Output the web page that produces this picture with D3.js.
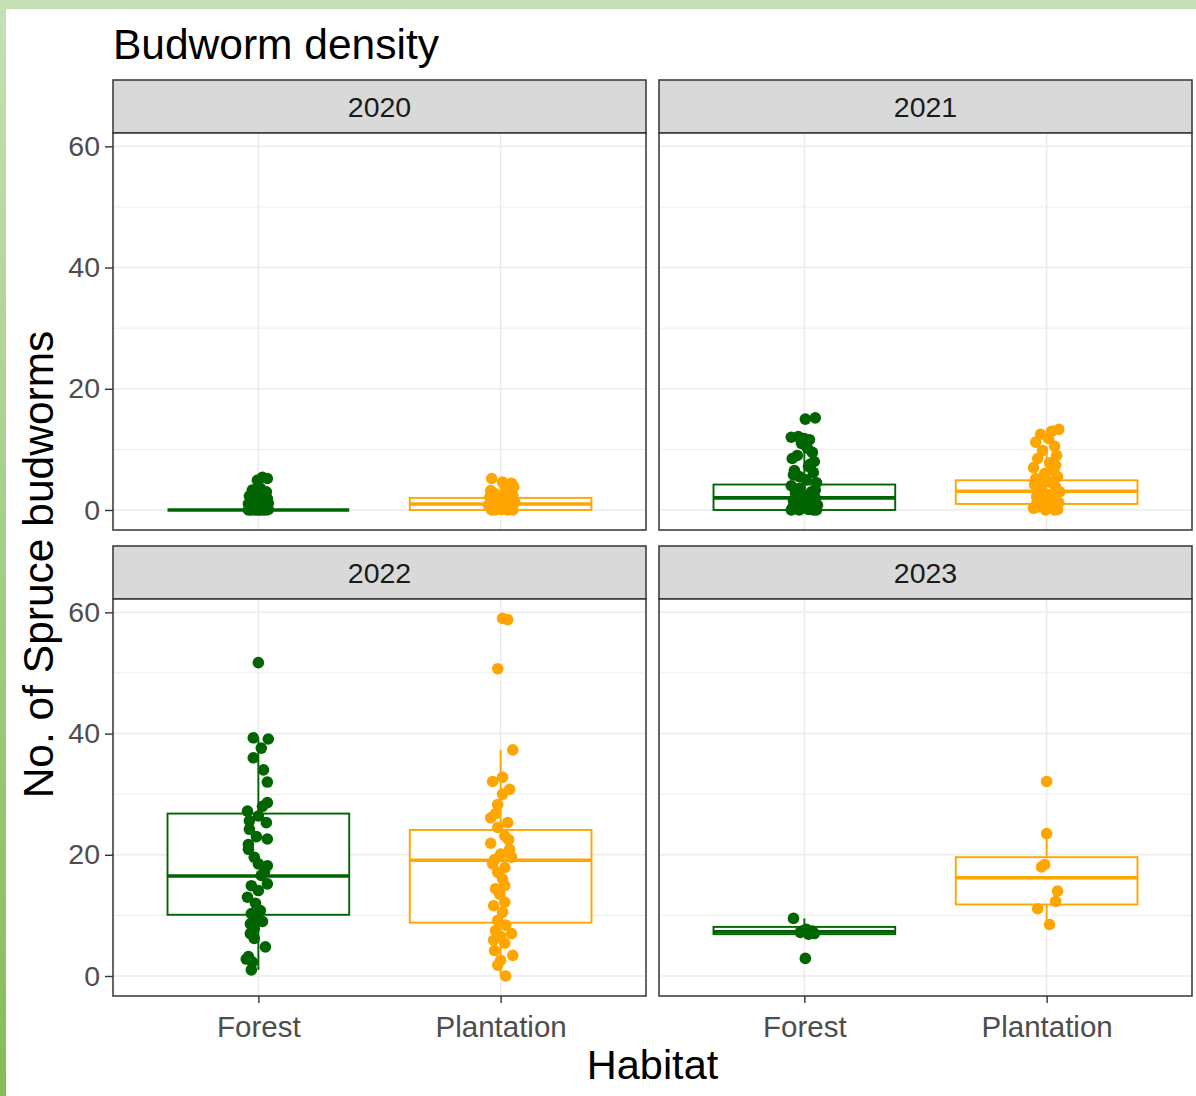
<!DOCTYPE html>
<html>
<head>
<meta charset="utf-8">
<title>Budworm density</title>
<script src="https://cdn.jsdelivr.net/npm/d3@7"></script>
<style>
  html, body { margin: 0; padding: 0; background: #fff; }
  svg { display: block; font-family: "Liberation Sans", Arial, sans-serif; }
</style>
</head>
<body>
<svg id="chart" width="1196" height="1096"></svg>
<script>
// ---- data ----
const years = ["2020", "2021", "2022", "2023"];
const habitats = ["Forest", "Plantation"];
const yTicks = [0, 20, 40, 60];
const yMinorTicks = [10, 30, 50];
const habitatColours = ["#006400", "#FFA500"];

// box stats per habitat: [lower whisker, q1, median, q3, upper whisker]
const box2020 = [[0, 0, 0, 0, 0], [0, 0, 1, 2, 5]];
const box2021 = [[0, 0, 2, 4.2, 10.2], [0, 1, 3.1, 4.9, 10.5]];
const box2022 = [[1, 10.1, 16.5, 26.8, 39.3], [0, 8.8, 19.1, 24.1, 37.3]];
const box2023 = [[6.9, 6.9, 7.3, 8.1, 9.5], [8.5, 11.8, 16.2, 19.6, 23.5]];

// raw counts and the jitter offsets (in category units)
const forest2020 = [5.4, 5.2, 4.9, 3.6, 3.3, 3.0, 2.8, 2.5, 2.3, 2.0, 1.9, 1.7, 1.5, 1.3, 1.1, 1.0, 0.9, 0.7, 0.5, 0.4, 0.3, 0.2, 0.1, 0, 0, 0, 0, 0, 0, 0];
const forest2020Jit = [0.017, 0.037, -0.004, 0.008, -0.025, 0.033, -0.012, 0.025, -0.037, 0.004, 0.037, -0.029, 0.017, -0.017, 0.041, -0.041, 0.025, -0.008, 0.033, -0.033, 0.012, -0.021, 0.041, -0.041, -0.012, 0.021, 0, 0.033, -0.029, 0.008];
const plant2020 = [5.2, 4.4, 4.6, 3.8, 3.2, 3.0, 2.7, 2.4, 2.1, 2.0, 1.8, 1.5, 1.3, 1.0, 1.0, 0.8, 0.6, 0.4, 0.2, 0, 0, 0, 0, 0.1];
const plant2020Jit = [-0.037, 0.045, 0.008, 0.054, -0.041, 0.021, -0.025, 0.05, -0.045, 0, 0.033, -0.033, 0.058, -0.017, 0.025, -0.05, 0.041, -0.008, 0.017, -0.037, 0.05, -0.021, 0.029, 0.004];

const forest2021 = [15.0, 15.2, 12.0, 12.1, 11.8, 11.6, 11.0, 10.2, 9.5, 8.5, 8.0, 7.2, 6.5, 6.2, 5.5, 5.0, 4.5, 4.0, 3.6, 3.0, 2.8, 2.4, 2.0, 1.8, 1.5, 1.2, 1.0, 0.8, 0.5, 0.3, 0, 0, 0.1, 0.2, 0, 0.4, 0, 9.0, 7.6, 5.8, 3.3, 1.4];
const forest2021Jit = [0.004, 0.045, -0.054, -0.025, 0, 0.021, -0.012, 0.012, 0.033, -0.05, 0.041, 0.017, -0.041, 0.037, -0.021, 0.008, 0.05, -0.054, -0.017, 0.029, -0.037, 0.012, 0.045, -0.008, -0.045, 0.025, -0.029, 0.054, 0.004, -0.05, -0.021, 0.037, 0.017, -0.037, 0.05, -0.004, -0.054, -0.029, 0.025, -0.045, 0.045, -0.017];
const plant2021 = [13.3, 13.0, 12.5, 11.8, 11.2, 10.5, 9.8, 9.0, 8.5, 7.8, 7.0, 6.5, 6.0, 5.5, 5.0, 4.6, 4.2, 3.8, 3.4, 3.0, 2.6, 2.2, 1.8, 1.5, 1.2, 0.9, 0.6, 0.3, 0, 0, 0.1, 0.5, 2.0, 4.0, 7.4, 5.2, 2.8, 1.0];
const plant2021Jit = [0.05, 0.021, -0.025, 0.008, -0.045, 0.033, -0.017, 0.041, -0.037, 0.012, -0.054, 0.029, -0.008, 0.045, -0.033, 0.017, -0.05, 0.037, -0.021, 0.054, 0, -0.041, 0.025, -0.012, 0.05, -0.029, 0.008, -0.054, 0.033, -0.004, 0.045, -0.037, 0.017, -0.021, 0.037, -0.045, 0.041, -0.041];

const forest2022 = [51.7, 39.3, 39.1, 37.6, 36.0, 34.0, 32.0, 28.6, 28.0, 27.2, 26.4, 25.6, 25.3, 24.2, 23.0, 22.6, 21.7, 20.9, 19.6, 18.5, 18.2, 17.2, 16.6, 15.2, 14.9, 14.1, 13.0, 12.0, 10.8, 10.3, 9.5, 9.0, 8.6, 7.8, 7.0, 6.2, 4.8, 3.2, 2.8, 2.3, 1.0];
const forest2022Jit = [0, -0.021, 0.041, 0.012, -0.021, 0.021, 0.037, 0.037, 0.017, -0.045, 0, -0.037, 0.033, -0.037, -0.008, 0.037, -0.041, -0.041, -0.017, 0, 0.037, 0.025, 0.012, 0.037, -0.029, 0, -0.045, -0.012, 0.008, -0.029, -0.008, 0.017, -0.033, -0.017, -0.033, -0.017, 0.029, -0.041, -0.05, -0.025, -0.029];
const plant2022 = [59.0, 58.8, 50.7, 37.3, 32.8, 32.1, 30.8, 30.0, 28.3, 26.8, 26.1, 25.3, 24.5, 23.1, 22.5, 21.9, 20.9, 20.1, 19.6, 19.2, 18.5, 17.9, 17.1, 16.0, 14.9, 14.4, 13.5, 12.2, 11.6, 10.5, 9.2, 8.4, 7.5, 7.0, 6.5, 5.9, 5.4, 4.2, 3.4, 2.6, 1.8, 0];
const plant2022Jit = [0.008, 0.029, -0.012, 0.05, 0.008, -0.033, 0.037, 0.008, -0.012, -0.021, -0.041, 0.029, -0.012, 0.017, 0.033, -0.041, 0.037, 0, 0.045, -0.025, -0.033, 0.017, -0.012, 0.008, 0.017, -0.021, -0.004, 0.017, -0.029, 0.008, -0.012, 0.021, -0.021, 0.045, 0, -0.029, 0.017, -0.025, 0.05, 0, -0.012, 0.021];

const forest2023 = [9.5, 7.7, 7.4, 7.2, 7.0, 6.9, 7.5, 7.1, 2.9];
const forest2023Jit = [-0.045, 0.008, 0.033, -0.017, 0.041, 0.017, -0.004, 0.025, 0.004];
const plant2023 = [32.1, 23.5, 18.4, 18.0, 14.0, 12.3, 11.1, 8.5];
const plant2023Jit = [0, 0, -0.008, -0.021, 0.045, 0.037, -0.037, 0.012];

const boxStats = [box2020, box2021, box2022, box2023];
const pointValues = [[forest2020, plant2020], [forest2021, plant2021], [forest2022, plant2022], [forest2023, plant2023]];
const pointJitter = [[forest2020Jit, plant2020Jit], [forest2021Jit, plant2021Jit], [forest2022Jit, plant2022Jit], [forest2023Jit, plant2023Jit]];

// ---- layout ----
const W = 1196, H = 1096;
const panelW = 533, plotH = 397, stripH = 53;
const colX = [113, 659];
const rowY = [80, 546];   // top of each strip row

const svg = d3.select("#chart");

// green frame of the screenshot
const defs = svg.append("defs");
const grad = defs.append("linearGradient").attr("id", "frameGrad")
  .attr("x1", 0).attr("y1", 0).attr("x2", 0).attr("y2", 1);
grad.append("stop").attr("offset", "0%").attr("stop-color", "#c6e0b5");
grad.append("stop").attr("offset", "100%").attr("stop-color", "#86bb58");
svg.append("rect").attr("width", W).attr("height", H).attr("fill", "#fff");
svg.append("rect").attr("width", W).attr("height", 9).attr("fill", "#c6e0b5");
svg.append("rect").attr("width", 6).attr("height", H).attr("fill", "url(#frameGrad)");

const x = d3.scalePoint().domain(habitats).range([0, panelW]).padding(0.6);
const step = x.step();
const y = d3.scaleLinear().domain([-3.3, 62.2]).range([plotH, 0]);

years.forEach((yr, i) => {
  const col = i % 2, row = Math.floor(i / 2);
  const g = svg.append("g")
    .attr("transform", `translate(${colX[col]},${rowY[row]})`);

  // strip
  g.append("rect")
    .attr("width", panelW).attr("height", stripH)
    .attr("fill", "#d9d9d9").attr("stroke", "#333").attr("stroke-width", 1.5);
  g.append("text")
    .attr("x", panelW / 2).attr("y", stripH / 2 + 10)
    .attr("text-anchor", "middle")
    .attr("font-size", 28.5).attr("fill", "#1a1a1a")
    .text(yr);

  const p = g.append("g").attr("transform", `translate(0,${stripH})`);
  p.append("rect").attr("width", panelW).attr("height", plotH).attr("fill", "#fff");

  // grid
  p.selectAll("line.minor").data(yMinorTicks).join("line")
    .attr("x1", 0).attr("x2", panelW)
    .attr("y1", d => y(d)).attr("y2", d => y(d))
    .attr("stroke", "#ededed").attr("stroke-width", 1);
  p.selectAll("line.major").data(yTicks).join("line")
    .attr("x1", 0).attr("x2", panelW)
    .attr("y1", d => y(d)).attr("y2", d => y(d))
    .attr("stroke", "#ebebeb").attr("stroke-width", 1.5);
  p.selectAll("line.vgrid").data(habitats).join("line")
    .attr("x1", d => x(d)).attr("x2", d => x(d))
    .attr("y1", 0).attr("y2", plotH)
    .attr("stroke", "#ebebeb").attr("stroke-width", 1.5);

  // boxplots
  const bw = step * 0.75;
  habitats.forEach((h, k) => {
    const [lo, q1, med, q3, hi] = boxStats[i][k];
    const cx = x(h), c = habitatColours[k];
    const bg = p.append("g");
    bg.append("line").attr("x1", cx).attr("x2", cx)
      .attr("y1", y(q3)).attr("y2", y(hi)).attr("stroke", c).attr("stroke-width", 1.9);
    bg.append("line").attr("x1", cx).attr("x2", cx)
      .attr("y1", y(q1)).attr("y2", y(lo)).attr("stroke", c).attr("stroke-width", 1.9);
    bg.append("rect")
      .attr("x", cx - bw / 2).attr("width", bw)
      .attr("y", y(q3)).attr("height", Math.max(0, y(q1) - y(q3)))
      .attr("fill", "#fff").attr("stroke", c).attr("stroke-width", 1.9);
    bg.append("line")
      .attr("x1", cx - bw / 2).attr("x2", cx + bw / 2)
      .attr("y1", y(med)).attr("y2", y(med))
      .attr("stroke", c).attr("stroke-width", 3.6);
  });

  // jittered points
  habitats.forEach((h, k) => {
    const vals = pointValues[i][k], jit = pointJitter[i][k];
    p.append("g").selectAll("circle").data(vals).join("circle")
      .attr("cx", (d, j) => x(h) + jit[j] * step)
      .attr("cy", d => y(d))
      .attr("r", 5.8)
      .attr("fill", habitatColours[k]);
  });

  // panel border
  p.append("rect").attr("width", panelW).attr("height", plotH)
    .attr("fill", "none").attr("stroke", "#333").attr("stroke-width", 1.5);

  // axes
  if (col === 0) {
    const ax = p.append("g").call(d3.axisLeft(y).tickValues(yTicks).tickSize(8).tickPadding(5));
    ax.select(".domain").remove();
    ax.selectAll("line").attr("stroke", "#333").attr("stroke-width", 1.4);
    ax.selectAll("text").attr("font-size", 28.5).attr("fill", "#4d4d4d")
      .attr("font-family", "Liberation Sans, Arial, sans-serif");
  }
  if (row === 1) {
    const ax = p.append("g").attr("transform", `translate(0,${plotH})`)
      .call(d3.axisBottom(x).tickSize(7).tickPadding(13));
    ax.select(".domain").remove();
    ax.selectAll("line").attr("stroke", "#333").attr("stroke-width", 1.4);
    ax.selectAll("text").attr("font-size", 29.5).attr("fill", "#4d4d4d")
      .attr("font-family", "Liberation Sans, Arial, sans-serif");
  }
});

// titles
svg.append("text").attr("x", 113).attr("y", 59)
  .attr("font-size", 42.5).attr("fill", "#000").text("Budworm density");
svg.append("text").attr("x", (colX[0] + colX[1] + panelW) / 2).attr("y", 1079)
  .attr("text-anchor", "middle").attr("font-size", 41.5).attr("fill", "#000").text("Habitat");
svg.append("text")
  .attr("transform", `translate(53,${(rowY[0] + stripH + rowY[1] + stripH + plotH) / 2}) rotate(-90)`)
  .attr("text-anchor", "middle").attr("font-size", 42.5).attr("fill", "#000")
  .text("No. of Spruce budworms");
</script>
</body>
</html>
